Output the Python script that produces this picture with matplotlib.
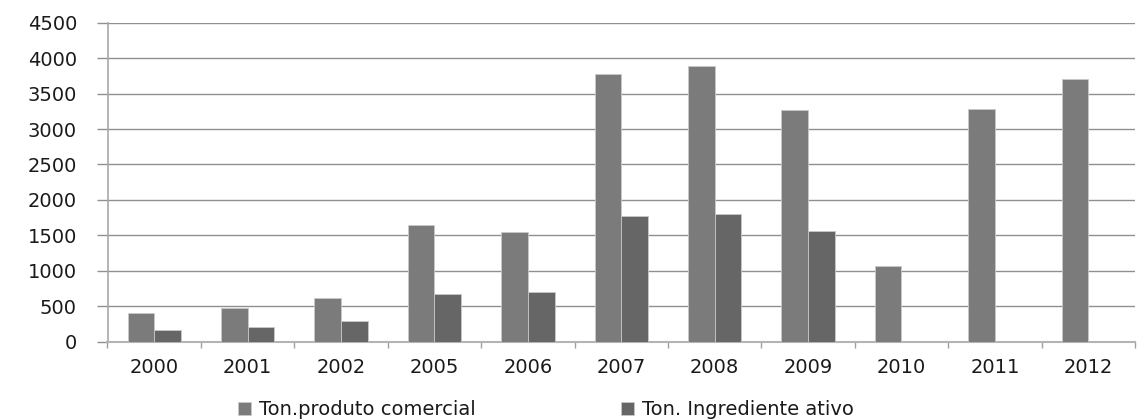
import matplotlib
matplotlib.use("Agg")
import matplotlib.pyplot as plt
import numpy as np

years = ["2000", "2001", "2002", "2005", "2006", "2007", "2008", "2009", "2010", "2011", "2012"]
produto_comercial = [405, 470, 610, 1650, 1550, 3780, 3885, 3265, 1065, 3280, 3700]
ingrediente_ativo = [165, 205, 290, 675, 700, 1770, 1800, 1565, 0, 0, 0]
series_names = ["Ton.produto comercial", "Ton. Ingrediente ativo"]
yticks = [0, 500, 1000, 1500, 2000, 2500, 3000, 3500, 4000, 4500]

plt.rcParams['font.family'] = ['DejaVu Sans']

W, H = 1138, 419
fig = plt.figure(figsize=(W / 100, H / 100), dpi=100)
ax = fig.add_axes([107.5 / W, 1 - 341.7 / H, (1135 - 107.5) / W, (341.7 - 22.7) / H])

x = np.arange(len(years))
bw = 1 / 3.5
c1, c2 = "#7b7b7b", "#666666"
ax.bar(x - bw / 2, produto_comercial, bw, color=c1, edgecolor="#c8c8c8", linewidth=0.6,
       label=series_names[0], zorder=3)
ax.bar(x + bw / 2, ingrediente_ativo, bw, color=c2, edgecolor="#c8c8c8", linewidth=0.6,
       label=series_names[1], zorder=3)

ax.set_xlim(-0.5, len(years) - 0.5)
ax.set_ylim(0, 4500)
ax.set_yticks(yticks)
ax.set_yticklabels([str(v) for v in yticks])
ax.yaxis.grid(True, color="#8f8f8f", linewidth=1.0, zorder=0)
ax.set_axisbelow(True)

for s in ["top", "right"]:
    ax.spines[s].set_visible(False)
ax.spines["left"].set_color("#a8a8a8")
ax.spines["left"].set_linewidth(1.2)
ax.spines["bottom"].set_color("#b4b4b4")
ax.spines["bottom"].set_linewidth(1.5)

ax.tick_params(axis="y", length=8, width=1.0, color="#8f8f8f", pad=14, labelsize=14,
               labelcolor="#1a1a1a")
ax.set_xticks(x)
ax.set_xticklabels(years)
ax.tick_params(axis="x", which="major", length=0, pad=12, labelsize=14, labelcolor="#1a1a1a")
ax.set_xticks(np.arange(len(years) + 1) - 0.5, minor=True)
ax.tick_params(axis="x", which="minor", length=4.5, width=1.0, color="#a0a0a0")

fig.legend(loc="center left", bbox_to_anchor=(230 / W, 1 - 409.5 / H), ncol=2, frameon=False,
           fontsize=14, handlelength=0.67, handleheight=0.67, handletextpad=0.4,
           columnspacing=7.5, borderaxespad=0, labelcolor="#1a1a1a")

fig.savefig("out.png", dpi=100, facecolor="white")
